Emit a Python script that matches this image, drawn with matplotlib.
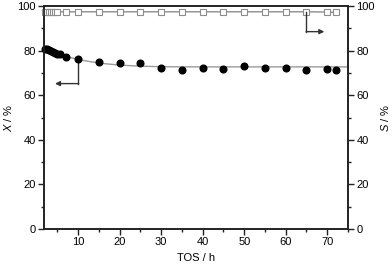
import matplotlib
matplotlib.use("Agg")
import matplotlib.pyplot as plt
from matplotlib.ticker import MultipleLocator

plt.rcParams['font.family'] = ['Liberation Sans', 'DejaVu Sans']
plt.rcParams['mathtext.fontset'] = 'custom'
plt.rcParams['mathtext.rm'] = 'Liberation Sans'
plt.rcParams['mathtext.it'] = 'Liberation Sans:italic'

# Conversion X (filled circles)
t_x = [2.0, 2.5, 3.0, 3.5, 4.0, 4.5, 5.0, 5.5, 7, 10, 15, 20, 25, 30, 35, 40, 45, 50, 55, 60, 65, 70, 72]
X = [80.9, 80.5, 80.1, 79.7, 79.3, 78.9, 78.6, 78.3, 77.3, 76.2, 74.8, 74.3, 74.3, 72.2, 71.5, 72.0, 71.9, 73.0, 72.3, 72.3, 71.2, 71.7, 71.3]

# Fitted trend curve for X
t_fit = [1.8, 3, 5, 7, 10, 13, 16, 20, 25, 30, 35, 45, 75]
X_fit = [80.8, 79.9, 78.6, 77.4, 76.0, 75.0, 74.2, 73.5, 73.0, 72.8, 72.7, 72.7, 72.7]

# Selectivity S (open squares)
t_s = [2.0, 2.5, 3.0, 3.5, 4.0, 4.5, 5, 7, 10, 15, 20, 25, 30, 35, 40, 45, 50, 55, 60, 65, 70, 72]
S = [97.3, 97.3, 97.3, 97.3, 97.3, 97.3, 97.4, 97.4, 97.4, 97.4, 97.4, 97.4, 97.4, 97.4, 97.4, 97.4, 97.4, 97.4, 97.4, 97.4, 97.3, 97.1]

x_ticks = [10, 20, 30, 40, 50, 60, 70]
y_ticks = [0, 20, 40, 60, 80, 100]

fig = plt.figure(figsize=(3.92, 2.66), dpi=100)
ax = fig.add_axes([44/392, 1 - 229/266, (348-44)/392, (229-6)/266])
ax2 = ax.twinx()

ax.plot(t_fit, X_fit, color='#9a9a9a', lw=1.0, zorder=2)
ax.plot(t_x, X, 'o', color='black', ms=4.8, zorder=3, clip_on=False)

ax2.plot(t_s, S, '-s', color='#8c8c8c', lw=1.0, ms=4.0, mfc='white', mec='#8c8c8c', mew=0.8, clip_on=False)

# arrows
ax.plot([10, 10], [76.2, 65.2], color='#333333', lw=1.0)
ax.annotate('', xy=(4.4, 65.2), xytext=(10.1, 65.2),
            arrowprops=dict(arrowstyle='-|>', color='#333333', lw=1.0, mutation_scale=7, shrinkA=0, shrinkB=0))
ax2.plot([65, 65], [97.4, 88.5], color='#333333', lw=1.0)
ax2.annotate('', xy=(69.3, 88.5), xytext=(64.9, 88.5),
             arrowprops=dict(arrowstyle='-|>', color='#333333', lw=1.0, mutation_scale=7, shrinkA=0, shrinkB=0))

for a in (ax, ax2):
    a.set_xlim(1.75, 75)
    a.set_ylim(0, 100)
    a.set_yticks(y_ticks)
    a.yaxis.set_minor_locator(MultipleLocator(10))
    for s in a.spines.values():
        s.set_linewidth(1.2)
        s.set_color('#222222')

ax.set_xticks(x_ticks)
ax.xaxis.set_minor_locator(MultipleLocator(5))
ax.tick_params(which='major', direction='out', length=4, width=1, labelsize=8, pad=2, colors='#222222', labelcolor='black')
ax.tick_params(which='minor', direction='out', length=2.5, width=1, colors='#222222')
ax2.tick_params(which='major', direction='out', length=4, width=1, labelsize=8, pad=2, colors='#222222', labelcolor='black')
ax2.tick_params(which='minor', direction='out', length=2.5, width=1, colors='#222222')

ax.set_xlabel('TOS / h', fontsize=8, labelpad=4)
ax.set_ylabel('$\\mathit{X}$ / %', fontsize=8, labelpad=2)
ax2.set_ylabel('$\\mathit{S}$ / %', fontsize=8, labelpad=3)

fig.savefig('out.png', dpi=100)
